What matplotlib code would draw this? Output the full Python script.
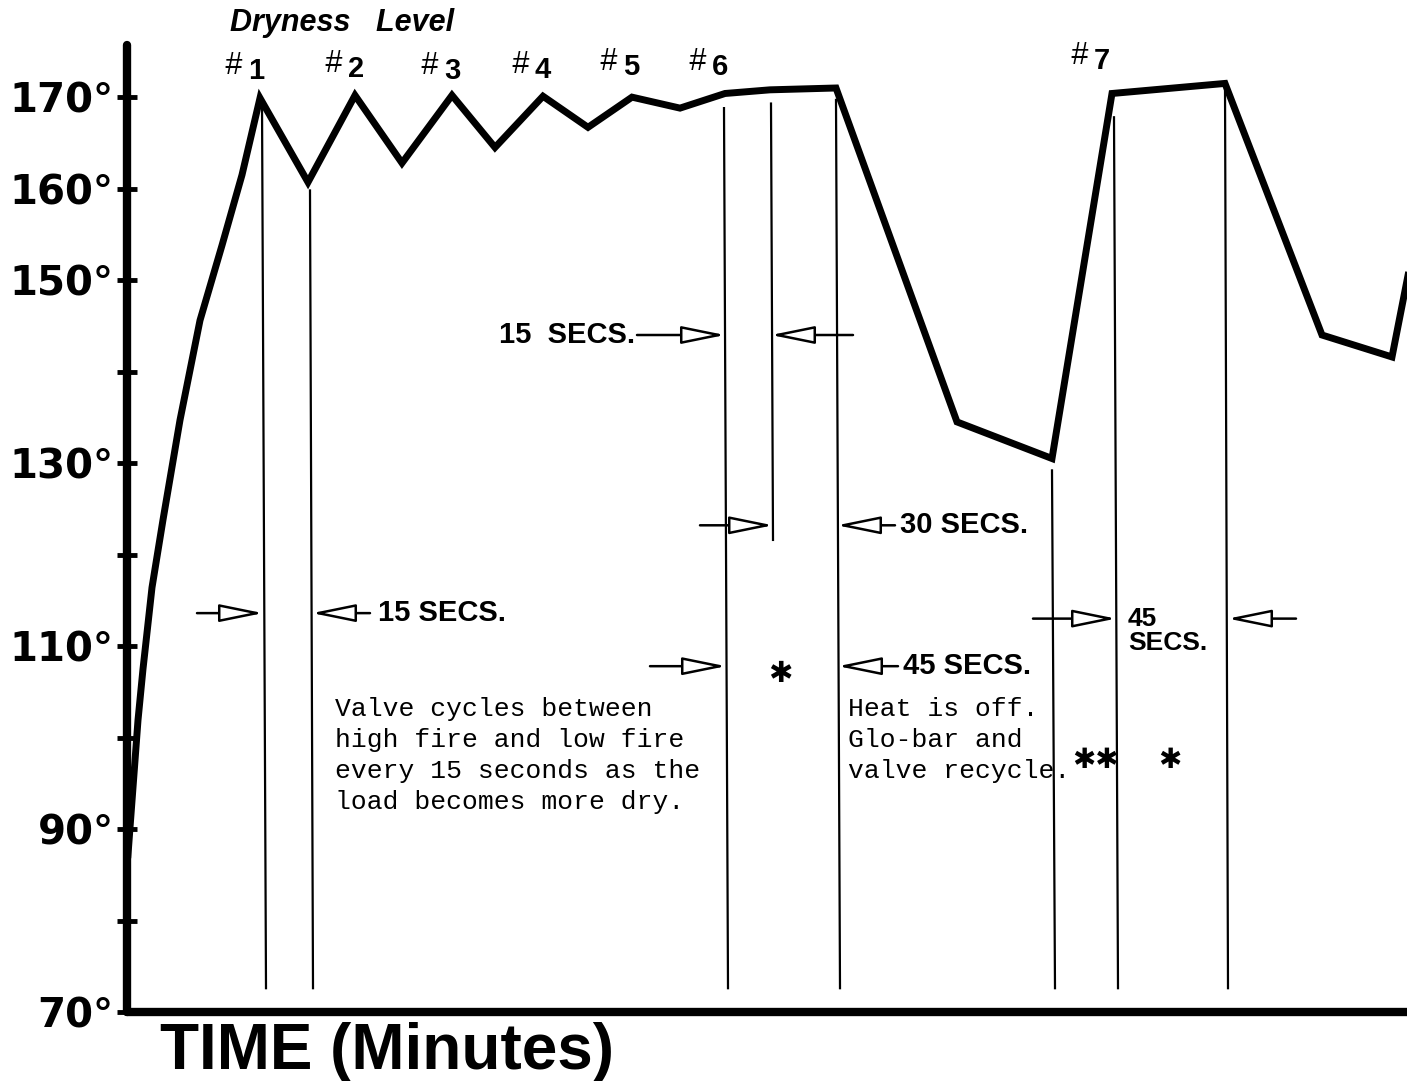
import matplotlib.pyplot as plt

# temperature trace (time units arbitrary, temperature in degrees F)
time = [0.1, 1.1, 1.6, 2.5, 3.6, 5.3, 7.3, 9.5, 11.5, 13.3, 18.1, 22.8, 27.5,
        32.5, 36.8, 41.6, 46.1, 50.5, 55.3, 59.8, 64.3, 70.9, 83.0, 92.5,
        98.5, 109.8, 119.5, 126.5, 129.3]
temp = [87.2, 101.9, 107.5, 116.4, 123.8, 134.7, 145.6, 153.8, 161.5, 169.9,
        160.7, 170.2, 162.8, 170.2, 164.5, 170.1, 166.7, 170.0, 168.8, 170.4,
        170.8, 171.0, 134.5, 130.5, 170.4, 171.5, 144.0, 141.6, 157.2]

tick_vals = [70, 80, 90, 100, 110, 120, 130, 140, 150, 160, 170]
tick_labels = ['70°', '', '90°', '', '110°', '', '130°', '', '150°', '160°', '170°']

# marker lines: x at top, x at bottom, temperature at top
mark_x_top = [13.5, 18.3, 59.7, 64.4, 70.9, 92.5, 98.7, 109.8]
mark_x_bot = [13.9, 18.6, 60.1, 64.6, 71.3, 92.8, 99.1, 110.1]
mark_top = [169.5, 159.8, 168.8, 169.3, 169.7, 129.2, 167.8, 171.3]
mark_bot = [72.6, 72.6, 72.6, 121.6, 72.6, 72.6, 72.6, 72.6]

dry_labels = ['1', '2', '3', '4', '5', '6', '7']
dry_x = [12.9, 22.9, 32.5, 41.6, 50.4, 59.3, 97.5]
dry_y = [172.9, 173.1, 172.9, 173.0, 173.3, 173.3, 174.0]

# dimension arrows: (tail x, tip x, temperature)
arrows = [(7.0, 13.6, 113.6), (24.3, 18.5, 113.6),
          (51.0, 59.8, 144.0), (72.6, 64.4, 144.0),
          (57.3, 64.6, 123.2), (76.8, 71.0, 123.2),
          (52.3, 59.9, 107.8), (77.1, 71.1, 107.8),
          (90.6, 98.9, 113.0), (116.9, 110.1, 113.0)]

fig = plt.figure(figsize=(14.07, 10.81), dpi=100)
ax = fig.add_axes([127 / 1407, 69 / 1081, 1280 / 1407, 967 / 1081])
ax.set_xlim(0, 128)
ax.set_ylim(70, 175.7)

ax.plot(time, temp, color='black', lw=5, solid_joinstyle='miter')

for xt, xb, yt, yb in zip(mark_x_top, mark_x_bot, mark_top, mark_bot):
    ax.plot([xt, xb], [yt, yb], color='black', lw=1.6)

for tail, tip, y in arrows:
    ax.annotate('', xy=(tip, y), xytext=(tail, y),
                arrowprops=dict(arrowstyle='-|>,head_length=2.7,head_width=0.55',
                                mutation_scale=10, fc='white', ec='black',
                                lw=1.8, shrinkA=0, shrinkB=0))

secs = dict(fontsize=21, fontweight='bold', family='Liberation Sans', va='center')
ax.text(25.1, 113.6, '15 SECS.', **secs)
ax.text(50.8, 144.0, '15  SECS.', ha='right', **secs)
ax.text(77.3, 123.2, '30 SECS.', **secs)
ax.text(77.6, 107.8, '45 SECS.', **secs)
ax.text(100.1, 114.3, '45\nSECS.', fontsize=19, fontweight='bold',
        family='Liberation Sans', va='top', linespacing=1.0)

ax.text(65.3, 107.0, '✱', fontsize=21, ha='center', va='center')
ax.text(96.8, 97.6, '✱✱', fontsize=20, ha='center', va='center')
ax.text(104.3, 97.6, '✱', fontsize=20, ha='center', va='center')

note = dict(fontsize=19, family='Liberation Mono', va='top', linespacing=1.36)
ax.text(20.8, 104.4, 'Valve cycles between\nhigh fire and low fire\n'
        'every 15 seconds as the\nload becomes more dry.', **note)
ax.text(72.1, 104.4, 'Heat is off.\nGlo-bar and\nvalve recycle.', **note)

ax.text(10.3, 178.1, 'Dryness   Level', fontsize=22, fontweight='bold',
        style='italic', family='Liberation Sans', va='center')
for lab, x, y in zip(dry_labels, dry_x, dry_y):
    ax.text(x, y, lab, fontsize=21, fontweight='bold', family='Liberation Sans',
            ha='center', va='center', clip_on=False)
    ax.text(x - 2.3, y + 0.5, '#', fontsize=22, style='italic',
            family='Liberation Sans', ha='center', va='center', clip_on=False)

ax.text(3.3, 65.6, 'TIME (Minutes)', fontsize=46, fontweight='bold',
        family='Liberation Sans', va='center')

ax.set_yticks(tick_vals)
ax.set_yticklabels(tick_labels, fontsize=29, fontweight='bold')
ax.set_xticks([])
ax.tick_params(axis='y', direction='inout', length=15, width=3.5, pad=2)
for side in ['top', 'right']:
    ax.spines[side].set_visible(False)
for side in ['left', 'bottom']:
    ax.spines[side].set_linewidth(6)
    ax.spines[side].set_capstyle('round')

fig.savefig('out.png', dpi=100)
